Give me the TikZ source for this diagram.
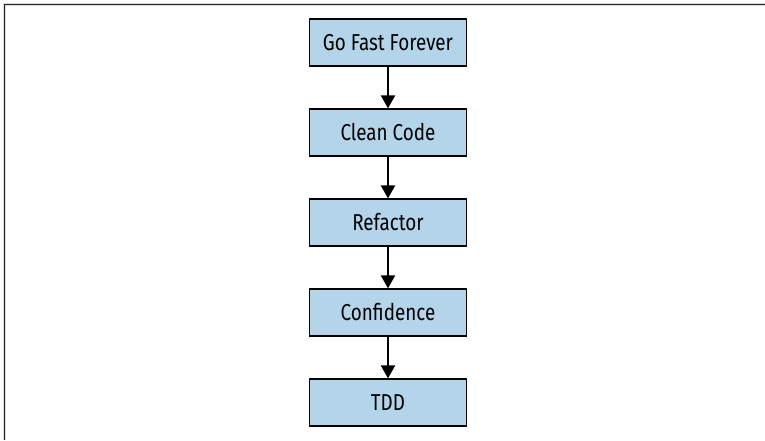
\documentclass[tikz,border=0pt]{standalone}
\usepackage{fontspec}
\setmainfont[FakeStretch=0.82]{Fira Sans}
\usetikzlibrary{arrows.meta}
\definecolor{boxblue}{RGB}{180,212,234}
\begin{document}
\begin{tikzpicture}[x=1pt,y=-1pt,
  stepbox/.style={draw=black,line width=1.2pt,fill=boxblue,minimum width=157pt,minimum height=47pt,inner sep=0pt,font=\fontsize{23}{26}\selectfont},
  conn/.style={line width=2pt,-{Triangle[width=14pt,length=13pt]}}]
\useasboundingbox (0,0) rectangle (765,440);
\draw[line width=2.5pt,black!15] (4.5,440) -- (4.5,4.5) -- (765,4.5);
\draw[line width=1.3pt,black!85] (4.5,440) -- (4.5,4.5) -- (765,4.5);
\node[stepbox] (a) at (388,42.5) {Go Fast Forever};
\node[stepbox] (b) at (388,132.5) {Clean Code};
\node[stepbox] (c) at (388,222.5) {Refactor};
\node[stepbox] (d) at (388,312.5) {Confidence};
\node[stepbox] (e) at (388,402.5) {TDD};
\draw[conn] (a) -- (b);
\draw[conn] (b) -- (c);
\draw[conn] (c) -- (d);
\draw[conn] (d) -- (e);
\end{tikzpicture}
\end{document}
